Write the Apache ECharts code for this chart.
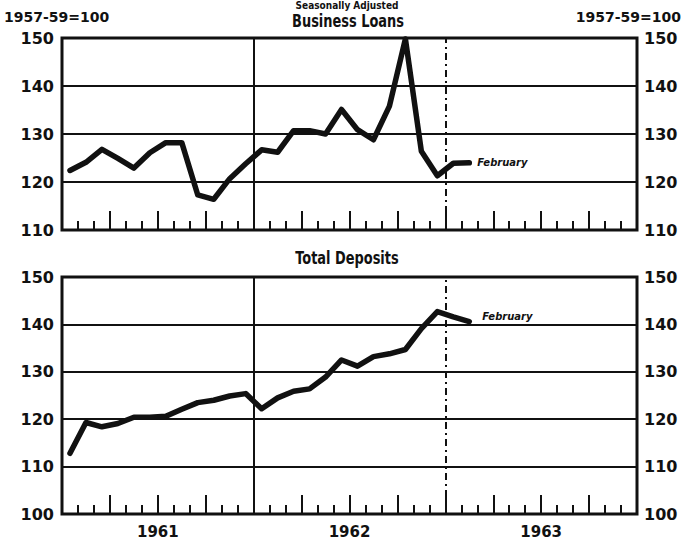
<!DOCTYPE html>
<html>
<head>
<meta charset="utf-8">
<script src="https://cdn.jsdelivr.net/npm/echarts@6/dist/echarts.min.js"></script>
<style>
  html, body { margin: 0; padding: 0; background: #fff; }
  #chart { width: 682px; height: 541px; }
</style>
</head>
<body>
<div id="chart"></div>
<script>
// monthly, seasonally adjusted, 1957-59=100
const months = [
  'Jan 1961', 'Feb 1961', 'Mar 1961', 'Apr 1961', 'May 1961', 'Jun 1961',
  'Jul 1961', 'Aug 1961', 'Sep 1961', 'Oct 1961', 'Nov 1961', 'Dec 1961',
  'Jan 1962', 'Feb 1962', 'Mar 1962', 'Apr 1962', 'May 1962', 'Jun 1962',
  'Jul 1962', 'Aug 1962', 'Sep 1962', 'Oct 1962', 'Nov 1962', 'Dec 1962',
  'Jan 1963', 'Feb 1963'
];
const years = ['1961', '1962', '1963'];
const loans = [
  122.4, 124.1, 126.8, 124.9, 122.9, 126.1, 128.2, 128.2, 117.3, 116.4, 120.7, 123.8,
  126.7, 126.2, 130.7, 130.7, 130.0, 135.1, 130.9, 128.8, 135.8, 149.8, 126.4, 121.3,
  123.9, 124.0
];
const deposits = [
  112.8, 119.3, 118.4, 119.1, 120.4, 120.4, 120.6, 122.1, 123.5, 124.0, 124.9, 125.4,
  122.2, 124.5, 125.9, 126.4, 128.9, 132.5, 131.2, 133.2, 133.8, 134.7, 139.1, 142.7,
  141.6, 140.6
];
const loanTicks = [110, 120, 130, 140, 150];
const depositTicks = [100, 110, 120, 130, 140, 150];
const monthSpan = years.length * 12;

const ink = '#111';
const numFont = 'DejaVu Sans';
const headFont = '"DejaVu Sans Condensed", sans-serif';

const chart = echarts.init(document.getElementById('chart'), null, { renderer: 'svg' });

function monthAxis(gridIndex, interval, length) {
  return {
    type: 'value', gridIndex, position: 'bottom',
    min: 0, max: monthSpan, interval,
    axisLine: { show: false },
    axisTick: { show: true, inside: true, length, lineStyle: { color: ink, width: 2 } },
    axisLabel: { show: false },
    splitLine: { show: false },
  };
}

function valueAxis(gridIndex, ticks, position) {
  return {
    type: 'value', gridIndex, position,
    min: ticks[0], max: ticks[ticks.length - 1], interval: ticks[1] - ticks[0],
    axisLine: { show: false },
    axisTick: { show: false },
    axisLabel: {
      color: ink, fontFamily: numFont, fontWeight: 'bold', fontSize: 16,
      margin: position === 'left' ? 8 : 7,
    },
    splitLine: { show: position === 'left', lineStyle: { color: ink, width: 2 } },
  };
}

function lineSeries(name, values, xIdx, yIdx, labelOffset) {
  return {
    name, type: 'line', xAxisIndex: xIdx, yAxisIndex: yIdx,
    data: values.map((v, i) => [i + 0.5, v]),
    symbol: 'none',
    lineStyle: { color: ink, width: 5.5, join: 'round', cap: 'round' },
    endLabel: {
      show: true, formatter: 'February', offset: labelOffset,
      color: ink, fontFamily: numFont, fontStyle: 'italic', fontWeight: 'bold', fontSize: 10,
    },
    markLine: {
      silent: true, symbol: 'none', label: { show: false },
      data: [
        { xAxis: 12, lineStyle: { color: ink, width: 2, type: 'solid' } },
        { xAxis: 24, lineStyle: { color: ink, width: 2, type: [7, 4, 2, 4] } },
      ],
    },
    z: 3,
  };
}

function text(str, x, y, align, font, scaleX) {
  return {
    type: 'text', x, y, scaleX: scaleX || 1,
    style: { text: str, font, fill: ink, textAlign: align, textVerticalAlign: 'middle' },
  };
}

chart.setOption({
  animation: false,
  backgroundColor: '#fff',
  grid: [
    { left: 62, right: 45, top: 38, height: 192, show: true, borderColor: ink, borderWidth: 3 },
    { left: 62, right: 45, top: 277, height: 237, show: true, borderColor: ink, borderWidth: 3 },
  ],
  xAxis: [
    monthAxis(0, 1, 9),
    monthAxis(0, 3, 19),
    monthAxis(1, 1, 9),
    monthAxis(1, 3, 19),
    {
      type: 'category', gridIndex: 1, position: 'bottom', data: years,
      axisLine: { show: false }, axisTick: { show: false },
      axisLabel: { color: ink, fontFamily: numFont, fontWeight: 'bold', fontSize: 15, margin: 10 },
    },
  ],
  yAxis: [
    valueAxis(0, loanTicks, 'left'),
    valueAxis(0, loanTicks, 'right'),
    valueAxis(1, depositTicks, 'left'),
    valueAxis(1, depositTicks, 'right'),
  ],
  series: [
    lineSeries('Business Loans', loans, 0, 0, [0, 0]),
    lineSeries('Total Deposits', deposits, 2, 2, [5, -5]),
  ],
  graphic: [
    text('Seasonally Adjusted', 347, 5, 'center', 'bold 10px ' + headFont),
    text('1957-59=100', 4, 17, 'left', 'bold 14px ' + numFont),
    text('1957-59=100', 681, 17, 'right', 'bold 14px ' + numFont),
    text('Business Loans', 348, 21, 'center', 'bold 18px ' + headFont, 0.8),
    text('Total Deposits', 347, 258, 'center', 'bold 18px ' + headFont, 0.8),
  ],
});
</script>
</body>
</html>
